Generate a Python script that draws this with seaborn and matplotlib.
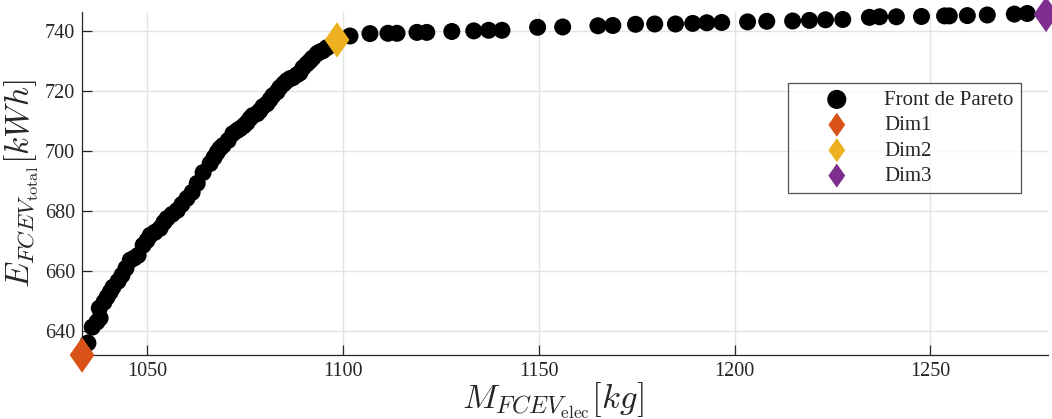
import matplotlib
matplotlib.use("Agg")
import matplotlib.pyplot as plt
import seaborn as sns
import pandas as pd

# Pareto front: electrical mass [kg] vs total energy [kWh]
pareto_mass = [
    1034.9, 1036.0, 1037.2, 1038.0, 1037.8, 1039.0, 1039.8, 1040.6, 1041.3, 1042.6,
    1043.6, 1044.6, 1045.7, 1046.7, 1047.7, 1049.0, 1050.0, 1050.8, 1052.0, 1053.3,
    1054.3, 1055.1, 1056.4, 1057.7, 1058.9, 1060.2, 1061.5, 1062.8, 1064.3, 1066.1,
    1067.1, 1067.9, 1068.6, 1069.4, 1070.7, 1071.9, 1073.0, 1073.7, 1074.7, 1075.5,
    1076.3, 1077.0, 1078.1, 1078.8, 1079.6, 1080.6, 1081.4, 1082.1, 1083.2, 1083.9,
    1084.9, 1085.7, 1086.5, 1087.2, 1088.3, 1089.0, 1089.8, 1090.8, 1091.6, 1092.3,
    1093.4, 1094.1, 1094.9, 1095.9, 1097.2,
    1101.8, 1106.9, 1111.5, 1113.8, 1118.9, 1121.4, 1127.8, 1133.4, 1137.2, 1140.6,
    1149.7, 1156.1, 1165.1, 1168.9, 1174.7, 1179.6, 1184.9, 1189.3, 1192.9, 1196.7,
    1203.3, 1208.2, 1214.8, 1219.1, 1223.2, 1227.6, 1234.4, 1237.0, 1241.3, 1247.7,
    1253.6, 1254.8, 1259.4, 1264.5, 1271.4, 1274.7,
]
pareto_energy = [
    636.0, 641.3, 643.0, 644.3, 647.6, 649.6, 651.3, 653.0, 654.6, 656.6,
    658.6, 660.9, 663.6, 664.3, 665.2, 668.6, 670.2, 671.9, 672.9, 674.2,
    676.2, 677.5, 678.9, 680.2, 682.2, 684.2, 686.2, 689.2, 692.8, 695.8,
    697.8, 699.5, 700.8, 701.8, 703.5, 705.8, 706.8, 707.4, 708.4, 709.4,
    710.8, 711.8, 712.4, 713.4, 714.8, 715.7, 717.1, 718.4, 719.7, 721.1,
    722.4, 723.4, 724.1, 724.4, 725.4, 726.0, 727.7, 729.0, 730.0, 731.0,
    732.4, 733.0, 733.4, 734.4, 735.3,
    738.3, 739.1, 739.2, 739.2, 739.5, 739.5, 739.8, 740.0, 740.2, 740.2,
    741.2, 741.3, 741.7, 741.8, 742.2, 742.3, 742.3, 742.5, 742.7, 742.8,
    743.0, 743.2, 743.3, 743.5, 743.7, 743.8, 744.5, 744.7, 744.7, 744.8,
    745.0, 745.0, 745.1, 745.3, 745.6, 745.8,
]

# selected designs
dim_labels = ["Dim1", "Dim2", "Dim3"]
dim_mass = [1033.4, 1098.5, 1279.5]
dim_energy = [632.0, 737.0, 745.5]
dim_colors = ["#D95319", "#EDB120", "#7E2F8E"]

df = pd.DataFrame({"mass": pareto_mass, "energy": pareto_energy})

sns.set_style("white")
plt.rcParams["font.family"] = ["Liberation Serif", "DejaVu Serif"]
plt.rcParams["mathtext.fontset"] = "cm"

fig, ax = plt.subplots(figsize=(10.52, 4.19), dpi=100)
fig.subplots_adjust(left=0.078, right=0.9962, top=0.9714, bottom=0.1527)

sns.scatterplot(data=df, x="mass", y="energy", ax=ax, color="black", s=150,
                edgecolor="none", label="Front de Pareto", clip_on=False, zorder=3)

diamond = [(0, 1), (0.7, 0), (0, -1), (-0.7, 0)]
for lab, m, e, c in zip(dim_labels, dim_mass, dim_energy, dim_colors):
    sns.scatterplot(x=[m], y=[e], ax=ax, color=c, marker=diamond, s=650,
                    edgecolor="none", label=lab, clip_on=False, zorder=4)

ax.set_xlim(1033.4, 1280)
ax.set_ylim(632, 746.3)
ax.set_xticks([1050, 1100, 1150, 1200, 1250])
ax.set_yticks([640, 660, 680, 700, 720, 740])

ax.grid(True, color="#e3e3e3", linewidth=1)
ax.set_axisbelow(True)
for side in ["top", "right"]:
    ax.spines[side].set_visible(False)
for side in ["left", "bottom"]:
    ax.spines[side].set_color("#262626")
    ax.spines[side].set_linewidth(0.9)
ax.tick_params(direction="in", length=7, width=0.9, colors="#262626",
               labelsize=14.5, left=True, bottom=True, pad=5)

ax.set_xlabel(r"$M_{FCEV_{\mathrm{elec}}}[kg]$", fontsize=25, color="#262626", labelpad=0)
ax.set_ylabel(r"$E_{FCEV_{\mathrm{total}}}[kWh]$", fontsize=24, color="#262626", labelpad=3)
ax.xaxis.set_label_coords(0.487, -0.075)

leg = ax.legend(loc="upper right", bbox_to_anchor=(0.972, 0.793), fontsize=15,
                frameon=True, fancybox=False, edgecolor="#262626",
                handlelength=4.0, handletextpad=0.28, borderpad=0.35,
                labelspacing=0.28, borderaxespad=0)
leg.get_frame().set_linewidth(0.9)
for i, h in enumerate(leg.legend_handles):
    h.set_sizes([190] if i == 0 else [300])

fig.savefig("out.png", dpi=100)
